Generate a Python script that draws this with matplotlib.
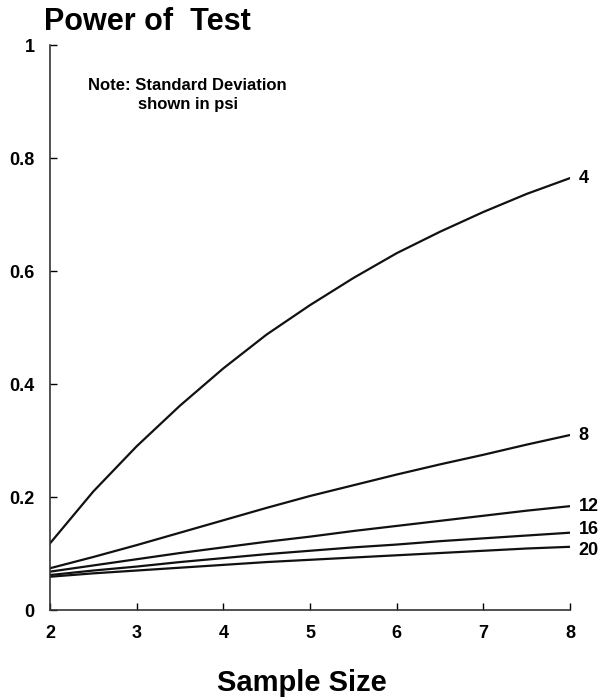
import matplotlib.pyplot as plt

sample_size = [2, 2.5, 3, 3.5, 4, 4.5, 5, 5.5, 6, 6.5, 7, 7.5, 8]
std_devs = ["4", "8", "12", "16", "20"]
power_4 = [0.118, 0.21, 0.29, 0.362, 0.428, 0.488, 0.54, 0.588, 0.632, 0.67, 0.705, 0.737, 0.765]
power_8 = [0.074, 0.094, 0.115, 0.137, 0.159, 0.181, 0.202, 0.221, 0.24, 0.258, 0.275, 0.293, 0.31]
power_12 = [0.068, 0.079, 0.09, 0.101, 0.111, 0.121, 0.13, 0.14, 0.149, 0.158, 0.167, 0.176, 0.184]
power_16 = [0.062, 0.07, 0.077, 0.085, 0.092, 0.099, 0.105, 0.111, 0.116, 0.122, 0.127, 0.132, 0.137]
power_20 = [0.059, 0.065, 0.07, 0.075, 0.08, 0.085, 0.089, 0.093, 0.097, 0.101, 0.105, 0.109, 0.112]
y_ticks = [0, 0.2, 0.4, 0.6, 0.8, 1]
y_tick_labels = ["0", "0.2", "0.4", "0.6", "0.8", "1"]

plt.rcParams['font.family'] = ['Liberation Sans', 'DejaVu Sans']
plt.rcParams['font.weight'] = 'bold'

fig = plt.figure(figsize=(6.02, 6.98), dpi=100)
ax = fig.add_axes([0.083, 0.126, 0.864, 0.809])

# small vertical nudges so the crowded end labels don't collide
nudge = {"4": 0, "8": 0, "12": 0, "16": 2.5, "20": -2.5}

series = [power_4, power_8, power_12, power_16, power_20]
for sd, vals in zip(std_devs, series):
    ax.plot(sample_size, vals, color='#111111', lw=1.6, solid_joinstyle='round')
    ax.annotate(sd, (sample_size[-1], vals[-1]), xytext=(6, nudge[sd]),
                textcoords='offset points', va='center', ha='left',
                fontsize=13, fontweight='bold', annotation_clip=False)

ax.set_xlim(2, 8)
ax.set_ylim(0, 1)
ax.set_xticks(range(2, 9))
ax.set_yticks(y_ticks)
ax.set_yticklabels(y_tick_labels)
ax.tick_params(direction='in', length=5, width=1, labelsize=13)
ax.tick_params(axis='x', pad=11)
ax.tick_params(axis='y', pad=11)
for lab in ax.get_xticklabels() + ax.get_yticklabels():
    lab.set_fontweight('bold')
ax.spines['top'].set_visible(False)
ax.spines['right'].set_visible(False)
for s in ['left', 'bottom']:
    ax.spines[s].set_linewidth(1.2)
    ax.spines[s].set_color('#333333')

fig.text(0.073, 0.968, "Power of  Test", fontsize=22, ha='left', va='center', fontweight='bold')
ax.text(0.265, 0.912, "Note: Standard Deviation\nshown in psi", transform=ax.transAxes,
        ha='center', va='center', fontsize=12, fontweight='bold', linespacing=1.3)
ax.set_xlabel("Sample Size", fontsize=21, fontweight='bold', labelpad=19)
ax.xaxis.label.set_x(0.485)

fig.savefig("out.png", dpi=100)
